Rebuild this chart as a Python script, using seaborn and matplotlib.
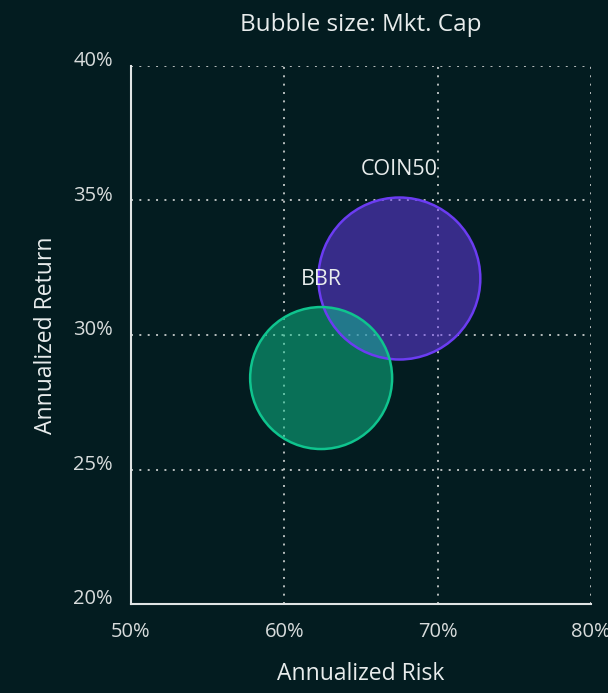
import matplotlib
matplotlib.use("Agg")
import matplotlib.pyplot as plt
import matplotlib.transforms as mtransforms
import seaborn as sns
import pandas as pd
from matplotlib.ticker import PercentFormatter

# bubble data (risk / return in %, size = market cap, relative)
names = ["COIN50", "BBR"]
risk = [67.5, 62.4]
ret = [32.1, 28.4]
mkt_cap = [1.30, 1.00]

x_ticks = [50, 60, 70, 80]
y_ticks = [20, 25, 30, 35, 40]

BG = "#031c20"
FG = "#e8ecec"
colors = {"COIN50": "#6b3cf2", "BBR": "#0fc48e"}

df = pd.DataFrame({"name": names, "risk": risk, "ret": ret, "cap": mkt_cap})

sns.set_theme(style="dark")
plt.rcParams["font.family"] = ["Open Sans", "DejaVu Sans"]

fig = plt.figure(figsize=(6.08, 6.93), dpi=100, facecolor=BG)
ax = fig.add_axes([131 / 608, 1 - 604 / 693, 460 / 608, 538 / 693])
ax.set_facecolor(BG)

sns.scatterplot(data=df, x="risk", y="ret", hue="name", palette=colors,
                size="cap", sizes=(10450, 13600), alpha=0.5,
                edgecolor=None, linewidth=0, legend=False, ax=ax, zorder=3)
# outlines, full opacity
for n, xv, yv, c in zip(names, risk, ret, mkt_cap):
    s = 10450 + (c - min(mkt_cap)) / (max(mkt_cap) - min(mkt_cap)) * (13600 - 10450)
    ax.scatter([xv], [yv], s=s, facecolors="none", edgecolors=colors[n],
               linewidths=1.8, zorder=4)
    ax.annotate(n, (xv, yv), xytext=(0, (s ** 0.5) / 2 + 20),
                textcoords="offset points", ha="center", va="center",
                color=FG, fontsize=15.5, zorder=5)

ax.set_xlim(50, 80)
ax.set_ylim(20, 40)
ax.set_xticks(x_ticks)
ax.set_yticks(y_ticks)
ax.xaxis.set_major_formatter(PercentFormatter(decimals=0))
ax.yaxis.set_major_formatter(PercentFormatter(decimals=0))
ax.tick_params(colors="#d8dcdc", labelsize=14.5, length=0, pad=13)
# y labels sit a little above their gridline
shift = mtransforms.ScaledTranslation(0, 0.07, fig.dpi_scale_trans)
for lab in ax.get_yticklabels():
    lab.set_transform(lab.get_transform() + shift)

ax.grid(True, color="#b8bebe", linestyle=(0, (1, 3.3)), linewidth=1.4)
ax.set_axisbelow(True)
for side in ["top", "right"]:
    ax.spines[side].set_visible(False)
for side in ["left", "bottom"]:
    ax.spines[side].set_color("#e0e4e4")
    ax.spines[side].set_linewidth(1.5)

ax.set_xlabel("Annualized Risk", color=FG, fontsize=16.5, labelpad=14)
ax.set_ylabel("Annualized Return", color=FG, fontsize=16.5, labelpad=11)
ax.set_title("Bubble size: Mkt. Cap", color=FG, fontsize=17.5, pad=25.5)

fig.savefig("out.png", dpi=100, facecolor=BG)
